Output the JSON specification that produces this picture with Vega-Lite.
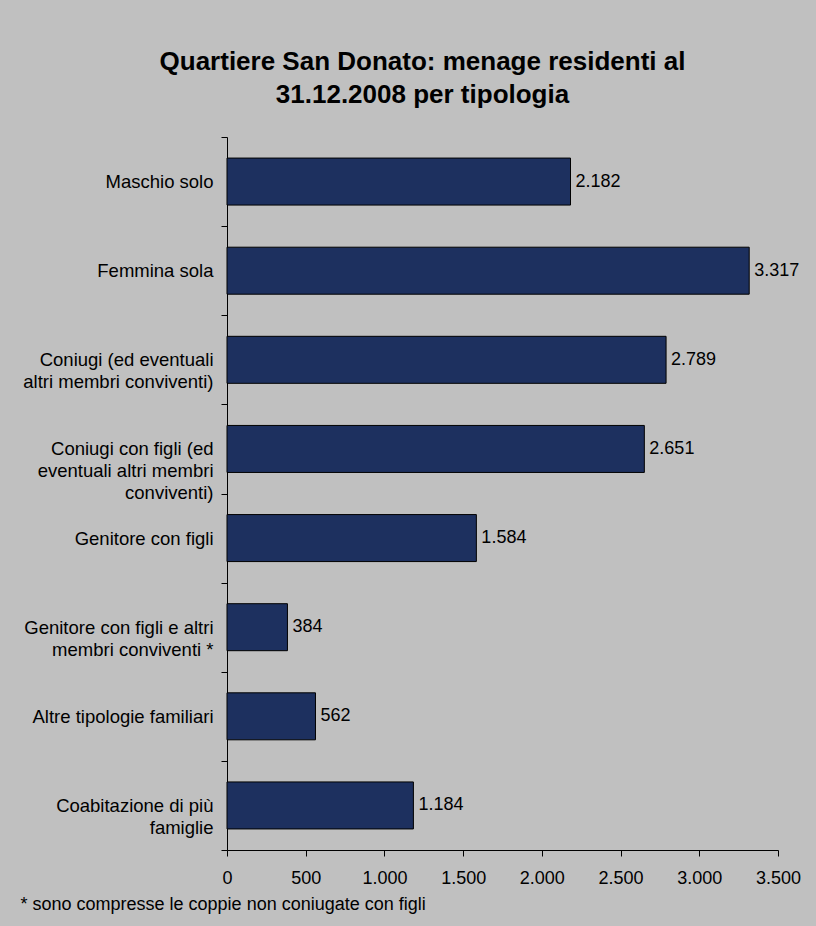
{
  "$schema": "https://vega.github.io/schema/vega-lite/v6.json",
  "autosize": {"type": "none"},
  "width": 551,
  "height": 713,
  "padding": {"left": 227, "top": 137, "right": 38, "bottom": 76},
  "background": "#c0c0c0",
  "title": {
    "text": ["Quartiere San Donato: menage residenti al", "31.12.2008 per tipologia"],
    "font": "Liberation Sans",
    "fontSize": 26,
    "fontWeight": "bold",
    "color": "black",
    "anchor": "middle",
    "frame": "group",
    "dx": -80,
    "offset": 20,
    "lineHeight": 33
  },
  "data": {
    "values": [
      {"tipologia": "Maschio solo", "menage": 2182},
      {"tipologia": "Femmina sola", "menage": 3317},
      {"tipologia": "Coniugi (ed eventuali|altri membri conviventi)", "menage": 2789},
      {"tipologia": "Coniugi con figli (ed|eventuali altri membri|conviventi)", "menage": 2651},
      {"tipologia": "Genitore con figli", "menage": 1584},
      {"tipologia": "Genitore con figli e altri|membri conviventi *", "menage": 384},
      {"tipologia": "Altre tipologie familiari", "menage": 562},
      {"tipologia": "Coabitazione di più|famiglie", "menage": 1184}
    ]
  },
  "encoding": {
    "y": {
      "field": "tipologia",
      "type": "nominal",
      "sort": null,
      "scale": {"paddingInner": 0, "paddingOuter": 0},
      "axis": {
        "title": null,
        "domainColor": "black",
        "tickColor": "black",
        "tickBand": "extent",
        "tickSize": 6,
        "labelAlign": "right",
        "labelPadding": 8,
        "labelFont": "Liberation Sans",
        "labelFontSize": 18.5,
        "labelColor": "black",
        "labelLimit": 0,
        "labelOverlap": false,
        "labelLineHeight": 22,
        "labelExpr": "split(datum.label, '|')"
      }
    },
    "x": {
      "field": "menage",
      "type": "quantitative",
      "scale": {"domain": [0, 3500], "nice": false},
      "axis": {
        "values": [0, 500, 1000, 1500, 2000, 2500, 3000, 3500],
        "format": ",.0f",
        "grid": false,
        "domainColor": "black",
        "tickColor": "black",
        "tickSize": 6,
        "labelPadding": 13,
        "labelFont": "Liberation Sans",
        "labelFontSize": 18,
        "labelColor": "black",
        "labelOverlap": false,
        "labelFlush": false,
        "title": "* sono compresse le coppie non coniugate con figli",
        "titleFont": "Liberation Sans",
        "titleFontSize": 18,
        "titleFontWeight": "normal",
        "titleColor": "black",
        "titleAnchor": "start",
        "titleAlign": "left",
        "titleBaseline": "alphabetic",
        "titleX": -207,
        "titleY": 59
      }
    }
  },
  "layer": [
    {
      "mark": {"type": "bar", "size": 47, "fill": "#1d305f", "stroke": "black", "strokeWidth": 1}
    },
    {
      "mark": {"type": "text", "align": "left", "baseline": "middle", "dx": 5, "font": "Liberation Sans", "fontSize": 18, "color": "black"},
      "encoding": {
        "text": {"field": "menage", "type": "quantitative", "format": ",.0f"}
      }
    }
  ],
  "config": {
    "view": {"stroke": null},
    "locale": {
      "number": {"decimal": ",", "thousands": ".", "grouping": [3], "currency": ["€", ""]}
    }
  }
}
